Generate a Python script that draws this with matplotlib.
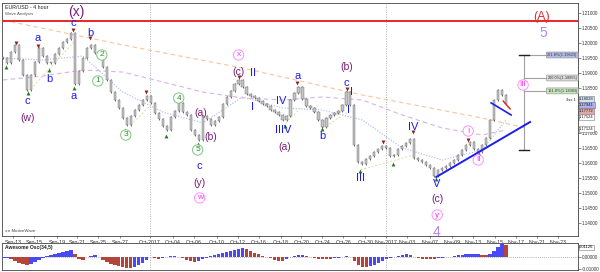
import matplotlib
matplotlib.use("Agg")
import matplotlib.pyplot as plt
import matplotlib.transforms as mtransforms
import numpy as np

plt.rcParams['font.family'] = ['Liberation Sans', 'DejaVu Sans']

# EUR/USD 4 hour closes (one step = two candles)
closes = [1.19500, 1.19333, 1.19700, 1.19933, 1.19433, 1.18933, 1.18433, 1.18933, 1.19367, 1.19833,
          1.19567, 1.19333, 1.19333, 1.19633, 1.19833, 1.20033, 1.20133, 1.20333, 1.18633, 1.19067,
          1.19500, 1.19833, 1.19933, 1.19667, 1.19500, 1.19200, 1.18767, 1.18367, 1.18100, 1.17833,
          1.17500, 1.17267, 1.17567, 1.17767, 1.17933, 1.18100, 1.18233, 1.18000, 1.17667, 1.17467,
          1.17233, 1.17100, 1.17533, 1.17733, 1.18000, 1.17700, 1.17600, 1.17100, 1.16933, 1.16767,
          1.17567, 1.17467, 1.17267, 1.17400, 1.17533, 1.17967, 1.18200, 1.18400, 1.18633, 1.18767,
          1.18533, 1.18300, 1.18233, 1.18167, 1.18067, 1.17967, 1.17900, 1.17767, 1.17700, 1.17600,
          1.17433, 1.17567, 1.18100, 1.18333, 1.18533, 1.18133, 1.17900, 1.17833, 1.17700, 1.17433,
          1.17200, 1.17500, 1.17600, 1.17667, 1.17733, 1.17933, 1.18367, 1.17933, 1.16600, 1.16033,
          1.15967, 1.16133, 1.16233, 1.16367, 1.16467, 1.16567, 1.16500, 1.16233, 1.16267, 1.16467,
          1.16567, 1.16667, 1.16800, 1.16167, 1.16100, 1.16033, 1.15933, 1.15833, 1.15567, 1.15767,
          1.15833, 1.15900, 1.16000, 1.16100, 1.16267, 1.16433, 1.16600, 1.16700, 1.16467, 1.16367,
          1.16600, 1.16833, 1.17433, 1.18100, 1.18433, 1.18267, 1.17967]

# Awesome Oscillator (34,5), in thousandths
ao_milli = [-0.8, -0.8, -1.5, -3.1, -4.6, -5.4, -6.2, -5.4, -3.8, -2.3,
            -0.8, 0.8, 1.5, 2.3, 3.1, 3.8, 4.6, 5.4, 2.3, -1.5,
            -2.3, 0.0, 0.8, 1.5, 0.0, -2.3, -3.8, -5.4, -6.9, -7.7,
            -8.5, -9.2, -9.2, -8.5, -6.9, -4.6, -2.3, 0.0, -0.8, -1.5,
            -0.8, 0.0, 0.8, 0.8, 0.0, -0.8, -2.3, -3.1, -3.8, -3.1,
            -1.5, -0.8, 0.8, 1.5, 2.3, 3.1, 3.8, 4.6, 5.4, 6.2,
            6.9, 6.2, 4.6, 3.1, 2.3, 0.8, 0.0, -0.8, -2.3, -3.1,
            -3.1, -1.5, 0.0, 0.8, 1.5, 1.5, 0.8, 0.0, -0.8, -1.5,
            -1.5, -1.5, -1.5, -0.8, -0.8, 0.0, 0.8, 0.0, -3.1, -6.2,
            -8.5, -8.5, -7.7, -6.2, -4.6, -3.1, -1.5, -0.8, 0.0, 0.8,
            1.5, 2.3, 1.5, 0.0, -0.8, -1.5, -1.5, -1.5, -1.5, -0.8,
            -0.8, 0.0, 0.0, 0.8, 1.5, 1.5, 2.3, 2.3, 2.3, 2.3,
            1.5, 1.5, 2.3, 4.6, 7.7, 10.0, 9.2]

date_pos = [2.5, 7.75, 13.5, 18.5, 23.75, 29.25, 36.75, 42.5, 47.75, 53.5, 58.75, 64, 69.5,
            74.75, 80, 85.25, 90.75, 96, 101.25, 107, 112.5, 117.75, 123.25, 128.5, 133.75, 139]
date_labels = ['Sep-13', 'Sep-15', 'Sep-19', 'Sep-21', 'Sep-25', 'Sep-27', 'Oct-2017', 'Oct-04',
               'Oct-06', 'Oct-10', 'Oct-12', 'Oct-16', 'Oct-18', 'Oct-20', 'Oct-24', 'Oct-26',
               'Oct-30', 'Nov-2017', 'Nov-03', 'Nov-07', 'Nov-09', 'Nov-13', 'Nov-15', 'Nov-17',
               'Nov-21', 'Nov-23']
month_pos = [36.75, 96]

# moving averages sampled every 10 steps
ma_idx = [0, 10, 20, 30, 40, 50, 60, 70, 80, 90, 100, 110, 120, 126]
ma_fast = [1.19497, 1.19430, 1.19563, 1.18363, 1.17697, 1.17330, 1.18197, 1.17830, 1.17763,
           1.17430, 1.16497, 1.16097, 1.16430, 1.17430]
ma_mid = [1.18763, 1.18897, 1.19097, 1.19030, 1.18697, 1.18363, 1.18163, 1.18097, 1.18197,
          1.18097, 1.17597, 1.17163, 1.16930, 1.17097]
slow_idx = [0, 30, 60, 90, 120, 131]
ma_slow = [1.20763, 1.19930, 1.19163, 1.18263, 1.17497, 1.17163]

resistance = 1.20733

peaks_idx = [3.25, 8.75, 17.5, 21.75, 35.75, 44, 59, 73.75, 86.25, 95.25, 102.75, 116.5]
peaks_px = [1.19997, 1.19897, 1.20430, 1.20163, 1.18363, 1.18063, 1.18863, 1.18663, 1.18463,
            1.16697, 1.17030, 1.16763]
lows_idx = [0.75, 6.25, 11.5, 17.75, 30.5, 40.75, 48.75, 70.5, 80, 89.5, 97.75, 108.5, 119.25]
lows_px = [1.19197, 1.18330, 1.19097, 1.18497, 1.17097, 1.16897, 1.16630, 1.17230, 1.17130,
           1.15730, 1.15963, 1.15463, 1.16297]

# wave labels: text, step, price, style
waves = [
    ('c', 6, 1.18063, 'blue'), ('(w)', 6.25, 1.17497, 'purple'), ('a', 8.75, 1.20163, 'blue'),
    ('b', 11.5, 1.18797, 'blue'), ('c', 17.5, 1.20663, 'blue'), ('a', 17.75, 1.18230, 'blue'),
    ('b', 22, 1.20330, 'blue'), ('2', 24.75, 1.19597, 'green'), ('1', 23.75, 1.18730, 'green'),
    ('3', 30.75, 1.16930, 'green'), ('4', 44, 1.18163, 'green'), ('5', 48.75, 1.16430, 'green'),
    ('(a)', 49.5, 1.17663, 'purple'), ('(b)', 52, 1.16863, 'purple'), ('c', 49.25, 1.15897, 'blue'),
    ('(y)', 49.25, 1.15330, 'purple'), ('w', 49.25, 1.14830, 'pink'), ('x', 59, 1.19597, 'pink'),
    ('(c)', 59, 1.19030, 'purple'), ('II', 62.5, 1.18997, 'blue'), ('I', 62.5, 1.17863, 'blue'),
    ('IV', 69.75, 1.18063, 'blue'), ('IIIV', 70.25, 1.17097, 'blue'), ('(a)', 70.5, 1.16530, 'purple'),
    ('a', 73.75, 1.18897, 'blue'), ('b', 80, 1.16897, 'blue'), ('(b)', 86, 1.19197, 'purple'),
    ('c', 86, 1.18663, 'blue'), ('I', 87.25, 1.18363, 'blue'), ('I', 86.5, 1.17763, 'blue'),
    ('III', 89.5, 1.15497, 'blue'), ('IV', 102.75, 1.17197, 'blue'), ('V', 108.5, 1.15297, 'blue'),
    ('(c)', 108.75, 1.14797, 'purple'), ('y', 108.75, 1.14263, 'pink'), ('4', 108.5, 1.13697, 'lav'),
    ('I', 116.5, 1.17063, 'pink'), ('II', 119, 1.16097, 'pink'), ('III', 130.25, 1.18597, 'pink'),
    ('(x)', 18.25, 1.21030, 'bigpurple'), ('(A)', 135, 1.20863, 'red'), ('5', 135.25, 1.20330, 'lav'),
]

fib_idx = 130.5
fib_top, fib_bottom = 1.19597, 1.16430
fib_levels = [1.19597, 1.18830, 1.18400]
fib_text = ['261.8%(1.19623)', '200.0%(1.18855)', '161.8%(1.18383)']
fib_colors = ['#b4bce6', '#dcdcdc', '#c6e8bc']

fig = plt.figure(figsize=(6, 2.72), dpi=100)
ax = fig.add_axes([2 / 600, 36 / 272, 576 / 600, 233 / 272])
osc = fig.add_axes([2 / 600, 2 / 272, 576 / 600, 27 / 272])

x = np.arange(len(closes))
c = np.array(closes)
prev = np.concatenate([[c[0]], c[:-1]])
lo = np.minimum(prev, c)
hi = np.maximum(prev, c)
ax.vlines(x, lo - 0.0003, hi + 0.0003, color='#202020', lw=0.45, zorder=3)
ax.bar(x, np.maximum(hi - lo, 0.00015), bottom=lo, width=0.55, color='#c4c4c4',
       edgecolor='#505050', lw=0.25, zorder=4)

ax.plot(ma_idx, ma_fast, ls=(0, (1, 1.5)), color='#9fb6f0', lw=0.8, zorder=2)
ax.plot(ma_idx, ma_mid, ls=(0, (4, 3)), color='#d8b2e8', lw=0.8, zorder=2)
ax.plot(slow_idx, ma_slow, ls=(0, (4, 3)), color='#f7c49a', lw=0.8, zorder=2)

segs = [((6.25, 18.25), (1.18363, 1.20097)), ((32, 37), (1.17263, 1.17930)),
        ((70.75, 74.5), (1.17330, 1.17830)), ((80, 86.5), (1.17163, 1.17697)),
        ((89.5, 102.75), (1.15763, 1.16263))]
for sx, sy in segs:
    ax.plot(sx, sy, ls=(0, (2, 2)), color='#e0dca0', lw=0.7, zorder=2)

ax.axhline(resistance, color='#e8262b', lw=1.4, zorder=5)
for m in month_pos:
    ax.axvline(m, color='#b0b0b0', ls=(0, (1, 1.5)), lw=0.7, zorder=1)
    osc.axvline(m, color='#b0b0b0', ls=(0, (1, 1.5)), lw=0.7, zorder=1)

ax.scatter(peaks_idx, peaks_px, marker='v', s=8, color='#8a2222', zorder=6, lw=0)
ax.scatter(lows_idx, lows_px, marker='^', s=8, color='#2a7a2a', zorder=6, lw=0)

# trend lines
ax.plot([108.5, 132], [1.15530, 1.17363], color='#1c1cf0', lw=1.4, zorder=6)
ax.plot([122.25, 127.25], [1.18000, 1.17597], color='#1c1cf0', lw=1.2, zorder=6)
ax.plot([125.25, 127], [1.18063, 1.17797], color='#e02020', lw=1.0, zorder=7)

# fib extension
ax.plot([fib_idx, fib_idx], [fib_bottom, fib_top], color='#a0a0a0', lw=0.8, zorder=5)
for yy in (fib_top, fib_bottom):
    ax.plot([fib_idx - 1.2, fib_idx + 1.2], [yy, yy], color='#202020', lw=1.0, zorder=6)
for lvl, txt, col in zip(fib_levels, fib_text, fib_colors):
    ax.plot([fib_idx, 136.5], [lvl, lvl], color='#a0a0a0', lw=0.8, zorder=5)
    ax.text(140.1, lvl, txt, fontsize=2.8, ha='center', va='center', color='#333333', zorder=7,
            bbox=dict(boxstyle='round,pad=0.25', fc=col, ec='#8a8a8a', lw=0.4))
ax.text(143.5, 1.18110, '3ss 1', fontsize=3, ha='right', va='center', color='#222222')

styles = {
    'blue': dict(color='#1c1cf0', fontsize=8),
    'purple': dict(color='#7a1e78', fontsize=7.5),
    'bigpurple': dict(color='#7a1e78', fontsize=10),
    'red': dict(color='#e03030', fontsize=9),
    'lav': dict(color='#b488f0', fontsize=10),
}
for txt, xi, yp, st in waves:
    if st == 'green':
        ax.text(xi, yp, txt, fontsize=6, color='#2e8b2e', ha='center', va='center', zorder=8,
                bbox=dict(boxstyle='circle,pad=0.2', fc='white', ec='#7cc87c', lw=0.7))
    elif st == 'pink':
        ax.text(xi, yp, txt, fontsize=6, color='#ff30ff', ha='center', va='center', zorder=8,
                bbox=dict(boxstyle='circle,pad=0.2', fc='white', ec='#ff90ff', lw=0.7))
    else:
        ax.text(xi, yp, txt, ha='center', va='center', zorder=8, **styles[st])

ax.text(0.006, 0.992, 'EUR/USD - 4 hour', transform=ax.transAxes, fontsize=3.8, va='top', color='#222222')
ax.text(0.006, 0.962, 'Wave Analysis', transform=ax.transAxes, fontsize=3.2, va='top', color='#555555')
ax.text(0.006, 0.012, '\u25cb\u25cb MotiveWave', transform=ax.transAxes, fontsize=3.2, va='bottom', color='#444444')

ax.set_xlim(-0.25, 144)
ax.set_ylim(1.13563, 1.21330)
ax.yaxis.tick_right()
yt = np.arange(1.14, 1.2101, 0.005)
ax.set_yticks(yt)
# the two levels hidden behind the price tags stay unlabeled
ax.set_yticklabels(['' if abs(v - 1.18) < 1e-6 or abs(v - 1.175) < 1e-6 else '%.5f' % v for v in yt])
ax.set_yticks(np.arange(1.136, 1.2131, 0.001), minor=True)
ax.tick_params(axis='y', labelsize=3.3, length=1.8, width=0.4, pad=1.0, colors='#333333')
ax.tick_params(axis='y', which='minor', length=1, width=0.3)
ax.set_xticks(date_pos)
ax.set_xticklabels(date_labels)
ax.tick_params(axis='x', labelsize=3.8, length=1.5, width=0.4, pad=1.2, colors='#333333')
for s in ax.spines.values():
    s.set_linewidth(0.6)
    s.set_color('#444444')

# price tags on the axis
tr = mtransforms.blended_transform_factory(ax.transAxes, ax.transData)
tags = [(1.18130, '1.18028', '#cfe3f5'), (1.17930, '1.17941', '#aab0ee'),
        (1.17730, '1.17772', '#e6a6a6'), (1.17530, '1.17524', 'white'), (1.17130, '1.17124', 'white')]
for yp, txt, col in tags:
    ax.text(1.002, yp, txt, transform=tr, fontsize=3.0, va='center', ha='left', color='#222222',
            bbox=dict(boxstyle='square,pad=0.15', fc=col, ec='#777777', lw=0.4), zorder=9, clip_on=False)

# Awesome oscillator
ao = np.array(ao_milli) / 1000.0
cols = []
last = '#4a4af5'
for i in range(len(ao)):
    if i > 0 and ao[i] > ao[i - 1]:
        last = '#4a4af5'
    elif i > 0 and ao[i] < ao[i - 1]:
        last = '#b5443a'
    cols.append(last)
osc.bar(x, ao, width=0.85, color=cols, lw=0, zorder=3)
osc.axhline(0, color='#999999', ls=(0, (1, 1.5)), lw=0.6, zorder=1)
osc.set_xlim(-0.25, 144)
osc.set_ylim(-0.0106, 0.0110)
osc.set_xticks([])
osc.yaxis.tick_right()
osc.set_yticks([0.0, -0.01])
osc.set_yticklabels(['0.00000', '-0.01000'])
osc.tick_params(axis='y', labelsize=3.3, length=1.8, width=0.4, pad=1.0, colors='#333333')
osc.text(0.006, 0.93, 'Awesome Osc(34,5)', transform=osc.transAxes, fontsize=3.6, va='top',
         fontweight='bold', color='#222222')
osc.text(1.002, 0.0075, '0.01126', transform=mtransforms.blended_transform_factory(osc.transAxes, osc.transData),
         fontsize=3.0, va='center', ha='left', bbox=dict(boxstyle='square,pad=0.15', fc='white', ec='#777777', lw=0.4),
         clip_on=False)
for s in osc.spines.values():
    s.set_linewidth(0.6)
    s.set_color('#444444')

fig.savefig('out.png', dpi=100)
